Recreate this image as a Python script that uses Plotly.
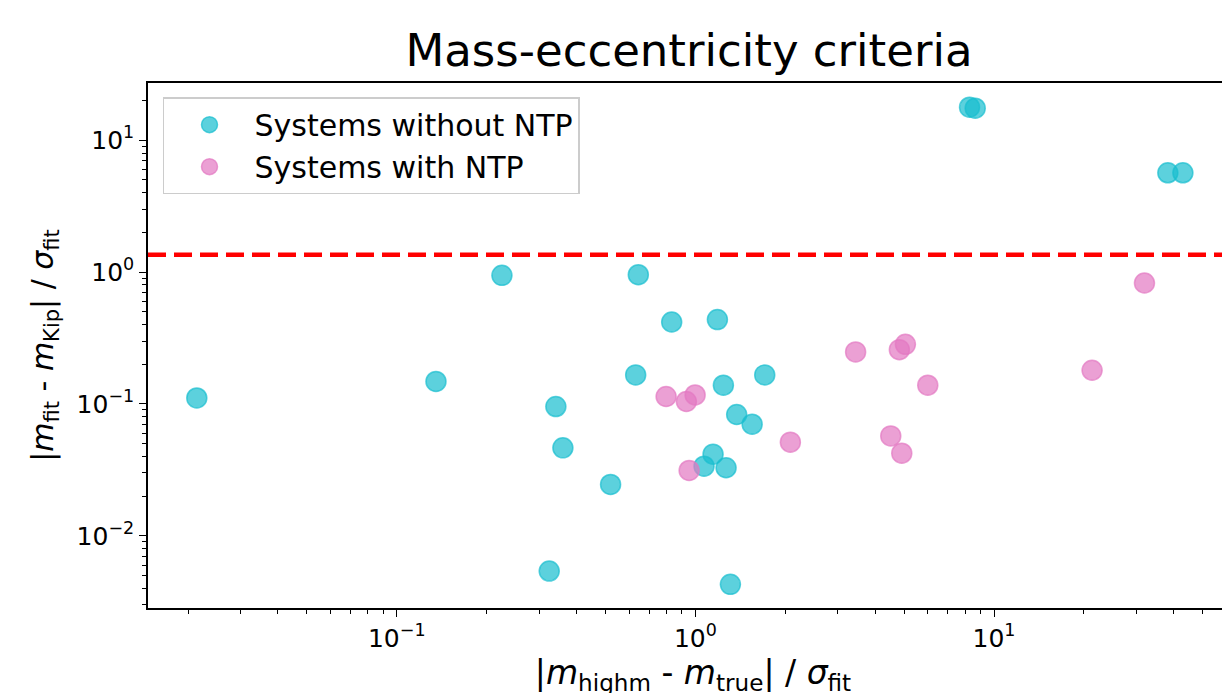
import plotly.graph_objects as go

# ---- data ----
without_x = [0.0214, 0.1353, 0.225, 0.324, 0.341, 0.360, 0.520, 0.631, 0.644, 0.833,
             1.069, 1.146, 1.185, 1.241, 1.267, 1.31, 1.375, 1.549, 1.707,
             8.28, 8.65, 38.2, 42.9]
without_y = [0.111, 0.148, 0.944, 0.0054, 0.0955, 0.0464, 0.0245, 0.166, 0.955, 0.418,
             0.0337, 0.0416, 0.436, 0.1386, 0.0328, 0.00428, 0.0831, 0.0702, 0.166,
             17.8, 17.5, 5.66, 5.66]

with_x = [0.798, 0.933, 0.953, 0.998, 2.08, 3.44, 4.51, 4.82, 4.91, 5.05, 6.0, 21.3, 31.9]
with_y = [0.1138, 0.1043, 0.0313, 0.117, 0.0513, 0.248, 0.0572, 0.258, 0.0423, 0.283,
          0.1386, 0.18, 0.826]

THRESHOLD = 1.355

x_tick_vals = [0.1, 1, 10]
x_tick_text = ["10<sup>−1</sup>", "10<sup>0</sup>", "10<sup>1</sup>"]
y_tick_vals = [0.01, 0.1, 1, 10]
y_tick_text = ["10<sup>−2</sup>", "10<sup>−1</sup>", "10<sup>0</sup>", "10<sup>1</sup>"]

TITLE = "Mass-eccentricity criteria"
X_TITLE = "|<i>m</i><sub>highm</sub> - <i>m</i><sub>true</sub>| / <i>σ</i><sub>fit</sub>"
Y_TITLE = "|<i>m</i><sub>fit</sub> - <i>m</i><sub>Kip</sub>| / <i>σ</i><sub>fit</sub>"

FONT = "DejaVu Sans"
CYAN_FILL = "rgba(23,190,207,0.7)"
PINK_FILL = "rgba(227,119,194,0.7)"


def minor_vals(lo, hi):
    vals = []
    for k in range(lo, hi + 1):
        for m in range(2, 10):
            vals.append(m * 10 ** k)
    return vals


fig = go.Figure()
fig.add_trace(go.Scatter(
    x=without_x, y=without_y, mode="markers", name="Systems without NTP",
    marker=dict(size=20, color=CYAN_FILL, line=dict(color=CYAN_FILL, width=1.5)),
))
fig.add_trace(go.Scatter(
    x=with_x, y=with_y, mode="markers", name="Systems with NTP",
    marker=dict(size=20, color=PINK_FILL, line=dict(color=PINK_FILL, width=1.5)),
))

fig.add_hline(y=THRESHOLD, line=dict(color="red", width=4.5, dash="18px,8px"))

axis_common = dict(
    type="log",
    showgrid=False, zeroline=False,
    showline=True, linecolor="black", linewidth=1.6,
    ticks="outside", ticklen=7, tickwidth=1.4, tickcolor="black",
    tickfont=dict(family=FONT, size=25, color="black"),
)

fig.update_xaxes(
    **axis_common,
    range=[-1.833, 1.817],
    mirror=True,
    tickvals=x_tick_vals, ticktext=x_tick_text,
    minor=dict(tickvals=minor_vals(-2, 1), ticks="outside", ticklen=4,
               tickwidth=1.1, tickcolor="black", showgrid=False),
    title=dict(text=X_TITLE, font=dict(family=FONT, size=33, color="black"), standoff=4),
    automargin=False,
)
fig.update_yaxes(
    **axis_common,
    range=[-2.548, 1.434],
    tickvals=y_tick_vals, ticktext=y_tick_text,
    minor=dict(tickvals=minor_vals(-3, 1), ticks="outside", ticklen=4,
               tickwidth=1.1, tickcolor="black", showgrid=False),
    title=dict(text=Y_TITLE, font=dict(family=FONT, size=30, color="black"), standoff=14),
    automargin=False,
)

fig.update_layout(
    width=1230, height=693,
    margin=dict(l=140, r=0, t=75, b=93),
    paper_bgcolor="white", plot_bgcolor="white",
    title=dict(text=TITLE, xref="paper", x=0.4963, xanchor="center",
               yref="container", y=1 - 42 / 693, yanchor="middle",
               font=dict(family=FONT, size=45, color="black")),
    legend=dict(
        x=0.01376, y=0.973, xanchor="left", yanchor="top",
        bgcolor="rgba(255,255,255,0.8)", bordercolor="#cccccc", borderwidth=1.5,
        font=dict(family=FONT, size=30, color="black"),
        itemwidth=80,
    ),
    showlegend=True,
)

fig.write_html("out.html")
